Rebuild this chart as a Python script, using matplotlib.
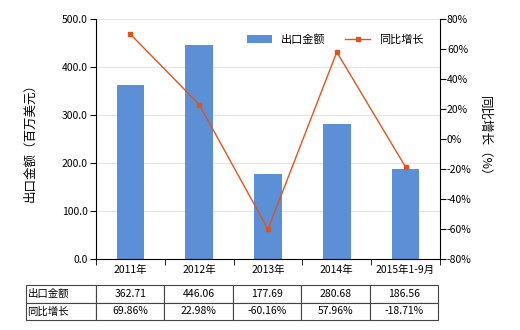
import numpy as np
import matplotlib.pyplot as plt

plt.rcParams['font.family'] = ['Noto Sans CJK SC', 'DejaVu Sans']

years = ['2011年', '2012年', '2013年', '2014年', '2015年1-9月']
export_val = [362.71, 446.06, 177.69, 280.68, 186.56]
growth = [69.86, 22.98, -60.16, 57.96, -18.71]
val_labels = ['362.71', '446.06', '177.69', '280.68', '186.56']
growth_labels = ['69.86%', '22.98%', '-60.16%', '57.96%', '-18.71%']

bar_color = '#5b8fd6'
line_color = '#e0541c'

fig = plt.figure(figsize=(5.2, 3.3), dpi=100)
ax = fig.add_axes([96/520, 1-259/330, 344/520, 240/330])
x = np.arange(len(years))

ax.bar(x, export_val, width=0.4, color=bar_color, label='出口金额', zorder=2)
ax.set_xlim(-0.5, len(years)-0.5)
ax.set_ylim(0, 500)
ax.set_yticks(np.arange(0, 501, 100))
ax.set_yticklabels([f'{v:.1f}' for v in np.arange(0, 501, 100)], fontsize=7.5)
ax.yaxis.grid(True, color='#e4e4e4', lw=0.8, zorder=0)
ax.set_xticks(x)
ax.set_xticklabels(years, fontsize=7.5)
ax.tick_params(axis='x', length=0, pad=4)
ax.set_xticks(np.arange(-0.5, len(years), 1), minor=True)
ax.tick_params(axis='x', which='minor', length=4)
ax.tick_params(axis='y', length=4, pad=2)
for s in ['top', 'right']:
    ax.spines[s].set_visible(False)
ax.set_ylabel('出口金额（百万美元）', fontsize=9, labelpad=18)

ax2 = ax.twinx()
ax2.plot(x, growth, color=line_color, lw=1, marker='s', markersize=3.5, label='同比增长', zorder=3)
ax2.set_ylim(-80, 80)
ax2.set_yticks(np.arange(-80, 81, 20))
ax2.set_yticklabels([f'{v}%' for v in np.arange(-80, 81, 20)], fontsize=7.5)
ax2.tick_params(axis='y', length=4, pad=1)
for s in ['top', 'left', 'bottom']:
    ax2.spines[s].set_visible(False)
ax2.set_ylabel('同比增长（%）', fontsize=9, rotation=270, labelpad=14)

h1, l1 = ax.get_legend_handles_labels()
h2, l2 = ax2.get_legend_handles_labels()
ax2.legend(h1 + h2, l1 + l2, loc='upper right', bbox_to_anchor=(0.98, 0.98),
           ncol=2, frameon=False, fontsize=8, handlelength=2.2, columnspacing=1.8)

cells = [['出口金额'] + val_labels, ['同比增长'] + growth_labels]
tbl = ax.table(cellText=cells, cellLoc='center',
               bbox=[(26-96)/344, (259-320)/240, (438-26)/344, 35/240],
               colWidths=[70] + [68.4]*5)
tbl.auto_set_font_size(False)
tbl.set_fontsize(7.5)
for (r, c), cell in tbl.get_celld().items():
    cell.set_edgecolor('#444444')
    cell.set_linewidth(0.8)
    if c == 0:
        cell.set_text_props(ha='left')
        cell.PAD = 0.02

plt.savefig('out.png', dpi=100)
